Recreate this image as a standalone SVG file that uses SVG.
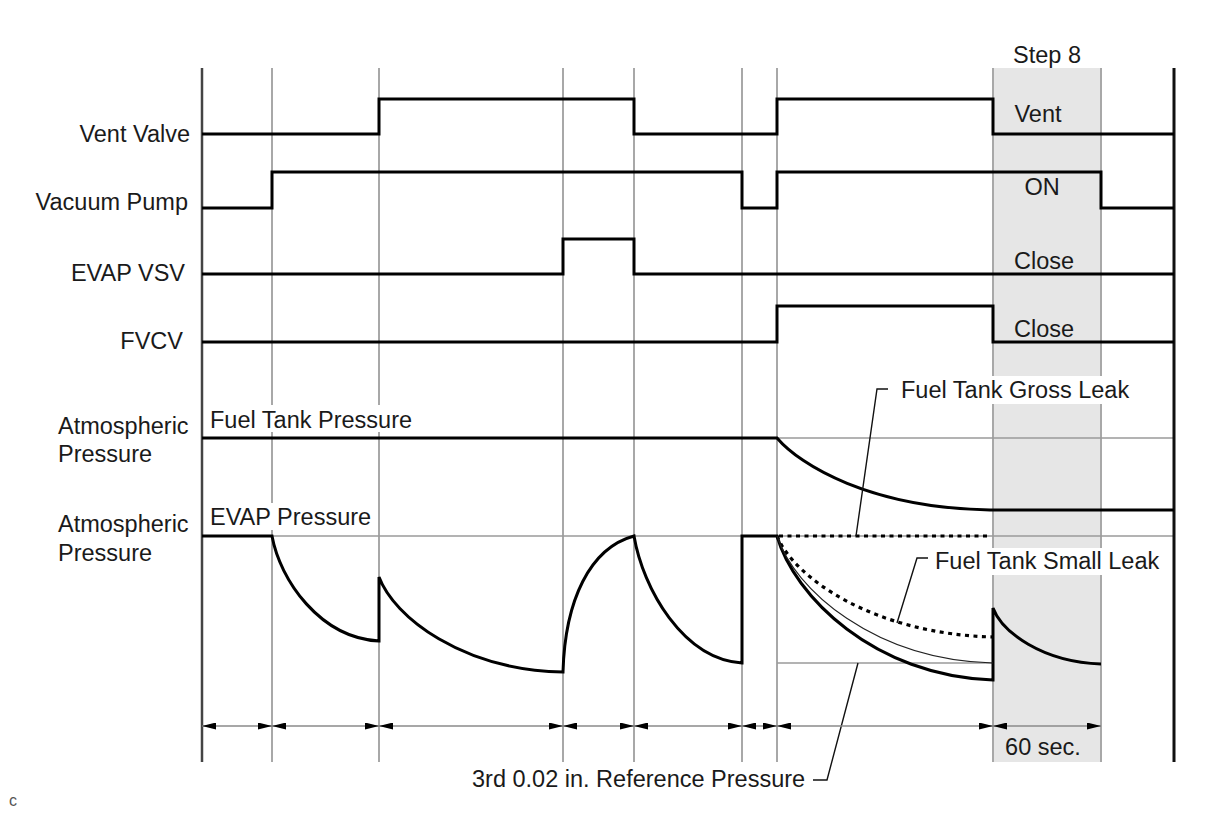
<svg xmlns="http://www.w3.org/2000/svg" width="1210" height="814" viewBox="0 0 1210 814">
<style>
text{font-family:"Liberation Sans",Arial,Helvetica,sans-serif;font-size:23.5px;fill:#1a1a1a}
.lbl{text-anchor:end}
.mid{text-anchor:middle}
.grid{stroke:#a8a8a8;stroke-width:2;fill:none}
.hgrid{stroke:#9a9a9a;stroke-width:1.5;fill:none}
.sig{stroke:#000;stroke-width:3;fill:none;stroke-linejoin:miter}
.dot{stroke:#000;stroke-width:3.2;fill:none;stroke-dasharray:4 4.5}
.thin{stroke:#222;stroke-width:1.1;fill:none}
.lead{stroke:#111;stroke-width:1.4;fill:none}
.bg{fill:#fff}
.dim{stroke:#8a8a8a;stroke-width:1.5;fill:none;marker-start:url(#ah);marker-end:url(#ah)}
</style>
<defs>
<marker id="ah" viewBox="0 0 14 7" refX="14" refY="3.5" markerWidth="14" markerHeight="7" markerUnits="userSpaceOnUse" orient="auto-start-reverse">
<path d="M0,0 L14,3.5 L0,7 z" fill="#000"/>
</marker>
</defs>
<rect width="1210" height="814" fill="#fff"/>
<g id="step8-band">
<rect x="993" y="68" width="108" height="694" fill="#e6e6e6"/>
<text x="1047" y="63" class="mid">Step 8</text>
</g>
<g id="grid">
<path class="grid" d="M272,68V762M379,68V762M563,68V762M634,68V762M742,68V762M777,68V762M993,68V762M1101,68V762"/>
<path class="hgrid" d="M202,438H1174M202,536H1174M777,663H993"/>
<line x1="202" y1="68" x2="202" y2="762" stroke="#444" stroke-width="2.5"/>
<line x1="1174" y1="68" x2="1174" y2="762" stroke="#111" stroke-width="3"/>
</g>
<g id="text-backgrounds">
<rect class="bg" x="207" y="405" width="210" height="27"/>
<rect class="bg" x="207" y="503" width="168" height="27"/>
<rect class="bg" x="897" y="376" width="237" height="28"/>
<rect class="bg" x="931" y="548" width="233" height="27"/>
</g>
<g id="vent-valve">
<text x="190" y="142" class="lbl">Vent Valve</text>
<path class="sig" d="M202,134H379V99H634V134H777V99H993V134H1174"/>
<text x="1038" y="122" class="mid">Vent</text>
</g>
<g id="vacuum-pump">
<text x="188" y="210" class="lbl">Vacuum Pump</text>
<path class="sig" d="M202,208H272V172H742V208H777V172H1101V208H1174"/>
<text x="1042" y="195" class="mid">ON</text>
</g>
<g id="evap-vsv">
<text x="185" y="281" class="lbl">EVAP VSV</text>
<path class="sig" d="M202,274H563V239H634V274H1174"/>
<text x="1044" y="269" class="mid">Close</text>
</g>
<g id="fvcv">
<text x="183" y="349" class="lbl">FVCV</text>
<path class="sig" d="M202,342H777V306H993V342H1174"/>
<text x="1044" y="337" class="mid">Close</text>
</g>
<g id="fuel-tank-pressure">
<text x="58" y="434">Atmospheric</text>
<text x="58" y="462">Pressure</text>
<text x="210" y="428">Fuel Tank Pressure</text>
<path class="sig" d="M202,438H777C800,465 870,508 990,510H1174"/>
</g>
<g id="evap-pressure">
<text x="58" y="532">Atmospheric</text>
<text x="58" y="561">Pressure</text>
<text x="210" y="525">EVAP Pressure</text>
<path class="sig" d="M202,536H272C280,580 320,638 379,641V577C394,617 462,670 563,672C565,600 590,548 634,536C643,589 683,659 742,663V536H777C794,596 874,676 993,680V608C1002,632 1042,662 1101,664"/>
<path class="dot" d="M779,536H991"/>
<path class="dot" d="M777,536C794,578 874,634 993,637"/>
<path class="thin" d="M777,536C794,589 874,660 993,663"/>
</g>
<g id="connectors">
<path class="lead" d="M888,389H877L856,536"/>
<path class="lead" d="M928,558H917L897,623"/>
<path class="lead" d="M813,780H827L858,663"/>
</g>
<g id="leak-labels">
<text x="901" y="398">Fuel Tank Gross Leak</text>
<text x="935" y="569">Fuel Tank Small Leak</text>
<text x="472" y="787">3rd 0.02 in. Reference Pressure</text>
</g>
<g id="timing">
<line class="dim" x1="202" y1="726" x2="272" y2="726"/>
<line class="dim" x1="272" y1="726" x2="379" y2="726"/>
<line class="dim" x1="379" y1="726" x2="563" y2="726"/>
<line class="dim" x1="563" y1="726" x2="634" y2="726"/>
<line class="dim" x1="634" y1="726" x2="742" y2="726"/>
<line class="dim" x1="742" y1="726" x2="777" y2="726"/>
<line class="dim" x1="777" y1="726" x2="993" y2="726"/>
<line class="dim" x1="993" y1="726" x2="1101" y2="726"/>
<text x="1043" y="755" class="mid">60 sec.</text>
</g>
<text x="9" y="806" style="font-size:16px;fill:#555">c</text>
</svg>
